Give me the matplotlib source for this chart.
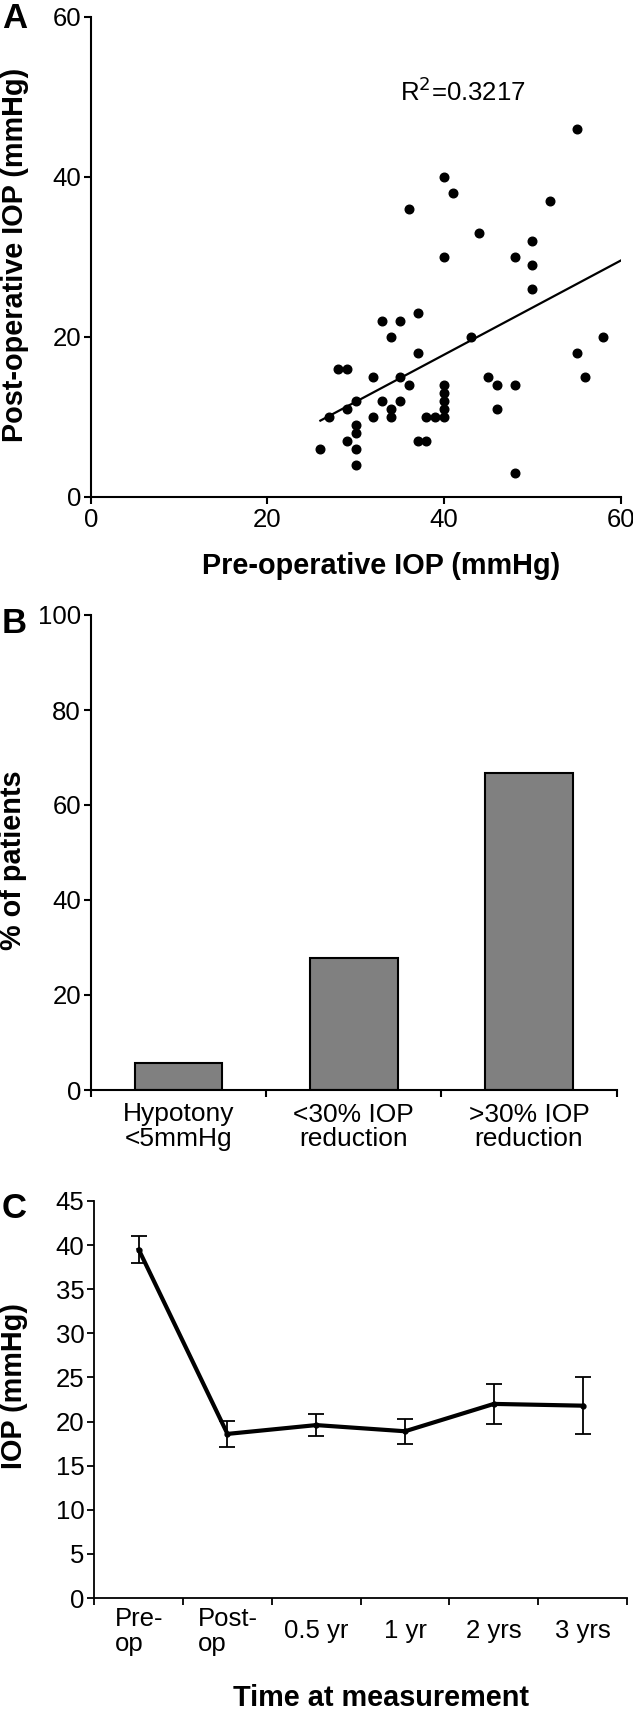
import matplotlib
matplotlib.use('Agg')
import matplotlib.pyplot as pl
import numpy as np

pl.rcParams['font.family'] = ['Liberation Sans', 'DejaVu Sans']

# Panel A: pre- vs post-operative IOP (mmHg)
pre_iop = [55, 40, 41, 52, 36, 44, 50, 40, 48, 50, 50, 37, 33, 35, 34, 43, 58,
           37, 55, 32, 35, 45, 56, 36, 40, 46, 48, 28, 29, 30, 33, 35, 34, 34,
           32, 40, 40, 40, 40, 38, 39, 46, 37, 38, 48, 30, 30, 30, 30, 29, 29,
           27, 26]
post_iop = [46, 40, 38, 37, 36, 33, 32, 30, 30, 29, 26, 23, 22, 22, 20, 20, 20,
            18, 18, 15, 15, 15, 15, 14, 14, 14, 14, 16, 16, 12, 12, 12, 11, 10,
            10, 13, 12, 11, 10, 10, 10, 11, 7, 7, 3, 9, 8, 6, 4, 7, 11,
            10, 6]
r2_label = 'R$^2$=0.3217'

# Panel B
outcome_labels = ['Hypotony\n<5mmHg', '<30% IOP\nreduction', '>30% IOP\nreduction']
outcome_pct = [5.6, 27.8, 66.7]

# Panel C
time_labels = ['Pre-\nop', 'Post-\nop', '0.5 yr', '1 yr', '2 yrs', '3 yrs']
iop_mean = [39.5, 18.6, 19.6, 18.9, 22.0, 21.8]
iop_err = [1.55, 1.5, 1.25, 1.4, 2.3, 3.2]

W, H = 633., 1714.
fig = pl.figure(figsize=(W / 100, H / 100), dpi=100)

TICK = 18.5
LAB = 20.8


def box(l, t, r, b):
    return [l / W, 1 - b / H, (r - l) / W, (b - t) / H]


def style(ax, lw=1.5):
    for s in ['top', 'right']:
        ax.spines[s].set_visible(False)
    for s in ['left', 'bottom']:
        ax.spines[s].set_linewidth(lw)
    ax.tick_params(direction='out', length=5, width=lw, labelsize=TICK)


# ---- A ----
ax = fig.add_axes(box(90.7, 16.7, 620.7, 496.7))
style(ax)
ax.plot(pre_iop, post_iop, 'o', color='k', markersize=6.2)
x = np.array(pre_iop, float)
y = np.array(post_iop, float)
m, c = np.polyfit(x, y, 1)
xx = np.array([x.min(), 60])
ax.plot(xx, m * xx + c, 'k-', linewidth=1.6)
ax.text(35, 49.5, r2_label, fontsize=TICK, va='baseline', ha='left')
ax.set_xlim(0, 60)
ax.set_ylim(0, 60)
ax.set_xticks([0, 20, 40, 60])
ax.set_yticks([0, 20, 40, 60])
ax.tick_params(axis='x', pad=3)
ax.tick_params(axis='y', pad=2)
fig.text(381 / W, 1 - 574 / H, 'Pre-operative IOP (mmHg)', fontsize=LAB,
         fontweight='bold', ha='center', va='baseline')
fig.text(15 / W, 1 - 255 / H, 'Post-operative IOP (mmHg)', fontsize=LAB,
         fontweight='bold', ha='center', va='center', rotation=90)
fig.text(2 / W, 1 - 2 / H, 'A', fontsize=25, fontweight='bold', va='top')

# ---- B ----
ax = fig.add_axes(box(90.7, 615, 616.7, 1090))
style(ax)
pos = np.arange(len(outcome_pct))
ax.bar(pos, outcome_pct, width=0.5, color='#808080', edgecolor='k',
       linewidth=1.5)
ax.set_xlim(-0.5, len(outcome_pct) - 0.5)
ax.set_ylim(0, 100)
ax.set_yticks([0, 20, 40, 60, 80, 100])
ax.set_xticks(np.arange(len(outcome_pct) + 1) - 0.5)
ax.set_xticklabels([])
ax.set_xticks(pos, minor=True)
ax.set_xticklabels(outcome_labels, minor=True, fontsize=19, linespacing=1.05)
ax.tick_params(axis='x', which='minor', length=0, pad=9)
ax.tick_params(axis='y', pad=2)
fig.text(13 / W, 1 - 860 / H, '% of patients', fontsize=LAB, fontweight='bold',
         ha='center', va='center', rotation=90)
fig.text(2 / W, 1 - 607 / H, 'B', fontsize=25, fontweight='bold', va='top')

# ---- C ----
ax = fig.add_axes(box(94.3, 1201, 627, 1598))
style(ax, lw=1.3)
pos = np.arange(len(iop_mean))
ax.errorbar(pos, iop_mean, yerr=iop_err, color='k', linewidth=3,
            marker='o', markersize=3.5, elinewidth=1.3, capsize=5.5,
            capthick=1.3)
ax.set_xlim(-0.5, len(iop_mean) - 0.5)
ax.set_ylim(0, 45)
ax.set_yticks(np.arange(0, 46, 5))
ax.set_xticks(np.arange(len(iop_mean) + 1) - 0.5)
ax.set_xticklabels([])
ax.set_xticks(pos, minor=True)
ax.set_xticklabels(time_labels, minor=True, fontsize=TICK, linespacing=1.05,
                   va='center', multialignment='left')
ax.tick_params(axis='x', which='minor', length=0, pad=24)
ax.tick_params(axis='y', pad=2)
fig.text(381 / W, 1 - 1706 / H, 'Time at measurement', fontsize=LAB,
         fontweight='bold', ha='center', va='baseline')
fig.text(14 / W, 1 - 1386 / H, 'IOP (mmHg)', fontsize=LAB, fontweight='bold',
         ha='center', va='center', rotation=90)
fig.text(2 / W, 1 - 1192 / H, 'C', fontsize=25, fontweight='bold', va='top')

pl.savefig('out.png', dpi=100)
